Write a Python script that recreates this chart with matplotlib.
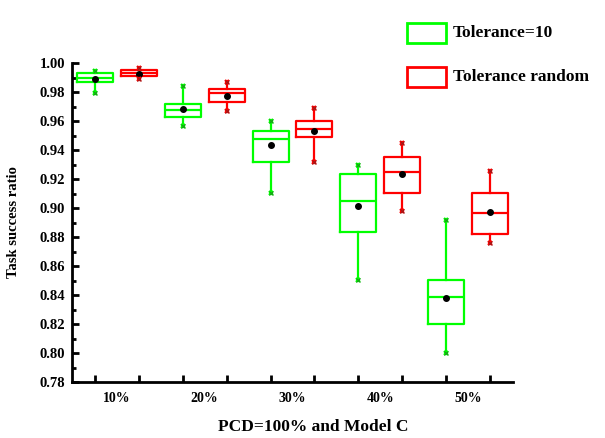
import matplotlib
matplotlib.use("Agg")
import matplotlib.pyplot as plt
from matplotlib.patches import Rectangle
from matplotlib.ticker import MultipleLocator, FixedLocator

plt.rcParams['font.family'] = ['Liberation Serif', 'DejaVu Serif']
plt.rcParams['font.weight'] = 'bold'

categories = ["10%", "20%", "30%", "40%", "50%"]
series_names = ["Tolerance=10", "Tolerance random"]
colors = ["#00ff00", "#ff0000"]
cap_colors = ["#1f8f1f", "#8f1f1f"]

# per-series stats for each category
tol10_whislo = [0.9795, 0.9566, 0.9101, 0.8503, 0.8002]
tol10_q1     = [0.9867, 0.9626, 0.9315, 0.8832, 0.8200]
tol10_med    = [0.9899, 0.9676, 0.9474, 0.9048, 0.8384]
tol10_q3     = [0.9929, 0.9717, 0.9533, 0.9234, 0.8503]
tol10_whishi = [0.9947, 0.9841, 0.9602, 0.9297, 0.8917]
tol10_mean   = [0.9888, 0.9683, 0.9432, 0.9016, 0.8381]

rand_whislo = [0.9888, 0.9667, 0.9320, 0.8982, 0.8761]
rand_q1     = [0.9913, 0.9729, 0.9488, 0.9101, 0.8821]
rand_med    = [0.9933, 0.9795, 0.9545, 0.9250, 0.8963]
rand_q3     = [0.9952, 0.9819, 0.9602, 0.9350, 0.9101]
rand_whishi = [0.9963, 0.9867, 0.9690, 0.9450, 0.9257]
rand_mean   = [0.9924, 0.9770, 0.9531, 0.9232, 0.8972]

series = [
    (tol10_whislo, tol10_q1, tol10_med, tol10_q3, tol10_whishi, tol10_mean),
    (rand_whislo, rand_q1, rand_med, rand_q3, rand_whishi, rand_mean),
]

fig = plt.figure(figsize=(6.05, 4.38), dpi=100)
ax = fig.add_axes([72/605, 1-382/438, 441/605, 319/438])

lw = 1.6
for s, (wlo, q1, med, q3, whi, mean) in enumerate(series):
    stats = []
    for i in range(len(categories)):
        stats.append(dict(whislo=wlo[i], q1=q1[i], med=med[i], q3=q3[i],
                          whishi=whi[i], mean=mean[i], fliers=[]))
    pos = [2*i + 1 + s for i in range(len(categories))]
    ax.bxp(stats, positions=pos, widths=0.82, showmeans=True, showcaps=False,
           boxprops=dict(color=colors[s], linewidth=lw),
           medianprops=dict(color=colors[s], linewidth=lw),
           whiskerprops=dict(color=colors[s], linewidth=lw),
           meanprops=dict(marker='o', markerfacecolor='black', markeredgecolor='black', markersize=4),
           manage_ticks=False, zorder=3)
    ends_x = pos + pos
    ends_y = list(wlo) + list(whi)
    ax.plot(ends_x, ends_y, linestyle='none', marker='x', markersize=3.5,
            markeredgewidth=1.6, color=colors[s], zorder=4)
    ax.plot(ends_x, ends_y, linestyle='none', marker='x', markersize=3,
            markeredgewidth=0.7, color=cap_colors[s], zorder=5)

ax.set_xlim(0.48, 10.52)
ax.set_ylim(0.78, 1.00)

for side in ['top', 'right']:
    ax.spines[side].set_visible(False)
for side in ['left', 'bottom']:
    ax.spines[side].set_linewidth(2.0)

ax.yaxis.set_major_locator(MultipleLocator(0.02))
ax.yaxis.set_minor_locator(MultipleLocator(0.01))
ax.yaxis.set_major_formatter(plt.FuncFormatter(lambda v, p: f"{v:.2f}"))
ax.tick_params(axis='y', which='major', direction='in', length=5, width=2, labelsize=10.5, pad=5)
ax.tick_params(axis='y', which='minor', direction='in', length=3, width=2)

ax.xaxis.set_major_locator(FixedLocator([2*i + 1.5 for i in range(len(categories))]))
ax.set_xticklabels(categories)
ax.xaxis.set_minor_locator(FixedLocator([p for i in range(len(categories)) for p in (2*i+1, 2*i+2)]))
ax.tick_params(axis='x', which='major', length=0, labelsize=10, pad=7)
ax.tick_params(axis='x', which='minor', direction='in', length=5, width=2)

ax.set_xlabel("PCD=100% and Model C", fontsize=12.5, fontweight='bold', labelpad=12)
ax.xaxis.set_label_coords((313-72)/441, -0.115)
ax.set_ylabel("Task success ratio", fontsize=10.5, fontweight='bold')
ax.yaxis.set_label_coords(-0.118, 0.5)

# legend drawn in figure pixel coordinates
leg_rows = [33, 77]
for s in range(2):
    yc = leg_rows[s]
    fig.patches.append(Rectangle((407/605, 1-(yc+10)/438), 39/605, 20/438,
                                 transform=fig.transFigure, facecolor='white',
                                 edgecolor=colors[s], linewidth=2.0))
    fig.text(453/605, 1-yc/438, series_names[s], fontsize=12.5, fontweight='bold',
             va='center', ha='left')

fig.savefig("out.png", dpi=100)
